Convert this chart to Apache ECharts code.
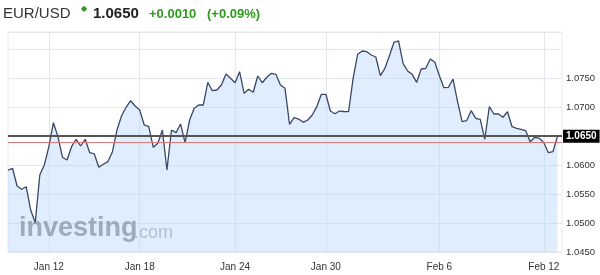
<!DOCTYPE html>
<html>
<head>
<meta charset="utf-8">
<script src="https://cdn.jsdelivr.net/npm/echarts@6/dist/echarts.min.js"></script>
<style>
html,body{margin:0;padding:0;background:#fff;}
#chart{width:600px;height:275px;}
</style>
</head>
<body>
<div id="chart"></div>
<script>
// EUR/USD price path
const prices = [
  1.05916,1.05946,1.0564,1.05583,1.05628,1.05225,1.05006,1.0583,1.06003,1.06319,
  1.06733,1.06492,1.06136,1.06089,1.06319,1.06447,1.06331,1.06447,1.06215,1.06193,
  1.05963,1.06015,1.0606,1.06232,1.06607,1.06849,1.06999,1.07113,1.07022,1.06953,
  1.06694,1.06664,1.06308,1.06378,1.06607,1.05916,1.06607,1.06561,1.06711,1.06388,
  1.0678,1.06982,1.07039,1.07039,1.07431,1.07286,1.07298,1.07385,1.07575,1.0750,
  1.07424,1.07614,1.07241,1.0731,1.07259,1.0754,1.07424,1.07518,1.07587,1.07569,
  1.07385,1.07328,1.06706,1.0682,1.06797,1.0674,1.0678,1.06866,1.0701,1.07224,
  1.07224,1.06935,1.06889,1.06935,1.06927,1.06923,1.0750,1.07915,1.07972,1.0796,
  1.07903,1.07868,1.07545,1.07673,1.07891,1.08122,1.08145,1.07759,1.07626,1.07569,
  1.07431,1.07661,1.07673,1.07834,1.07777,1.07545,1.07338,1.07345,1.07488,1.07096,
  1.06751,1.06768,1.06941,1.06809,1.06792,1.06447,1.0701,1.06884,1.06884,1.06827,
  1.06923,1.06664,1.06637,1.06619,1.06595,1.06405,1.06481,1.06464,1.06388,1.06215,
  1.06232,1.0650
];
// date tick labels and the data point each one sits on
const tickLabels = ['Jan 12','Jan 18','Jan 24','Jan 30','Feb 6','Feb 12'];
const tickIndex  = [9, 29, 50, 70, 95, 118];
// y-axis
const yMin = 1.045, yMax = 1.083, yStep = 0.005;
const lastPrice = 1.0650;
const prevClose = 1.0640;
// header texts
const headerSymbol = 'EUR/USD';
const headerPrice = '1.0650';
const headerChange = '+0.0010';
const headerPct = '(+0.09%)';

const categories = [];
for (let i = 0; i <= prices.length; i++) categories.push(String(i));
const labelAt = {};
tickIndex.forEach((ix, k) => { labelAt[ix] = tickLabels[k]; });
const showTick = (i) => labelAt[i] !== undefined;

const FONT = '"Liberation Sans", Arial, Helvetica, sans-serif';
const green = '#2f9a1f';

const chart = echarts.init(document.getElementById('chart'), null, {renderer: 'canvas'});
chart.setOption({
  animation: false,
  backgroundColor: '#ffffff',
  textStyle: {fontFamily: FONT},
  grid: {left: 8, right: 38, top: 32, bottom: 23, show: true, borderColor: '#e4e8ee', borderWidth: 1, backgroundColor: 'transparent'},
  xAxis: {
    type: 'category',
    data: categories,
    boundaryGap: false,
    axisLine: {show: false},
    axisTick: {show: false},
    axisLabel: {
      interval: (i) => showTick(i),
      formatter: (v, i) => labelAt[Number(v)] || '',
      color: '#333', fontSize: 10, margin: 10, fontFamily: FONT
    },
    splitLine: {show: true, interval: (i) => showTick(i), lineStyle: {color: '#e4e8ee', width: 1}}
  },
  yAxis: {
    type: 'value',
    position: 'right',
    min: yMin, max: yMax, interval: yStep,
    axisLine: {show: false},
    axisTick: {show: false},
    axisLabel: {
      color: '#333', fontSize: 9.5, margin: 4, fontFamily: FONT,
      formatter: (v) => {
        if (v > 1.0751) return '';
        if (Math.abs(v - lastPrice) < 1e-6) return '';
        return v.toFixed(4);
      }
    },
    splitLine: {show: true, lineStyle: {color: '#e4e8ee', width: 1}}
  },
  series: [{
    type: 'line',
    data: prices,
    symbol: 'none',
    smooth: false,
    lineStyle: {color: '#3a4768', width: 1.3},
    areaStyle: {color: 'rgba(180,212,248,0.6)', origin: 'start'},
    markLine: {
      silent: true,
      symbol: 'none',
      precision: 4,
      animation: false,
      data: [
        {yAxis: prevClose, lineStyle: {color: '#e07a7a', width: 1, type: 'solid'}, label: {show: false}},
        {yAxis: lastPrice, lineStyle: {color: '#555555', width: 2, type: 'solid'},
          label: {show: true, position: 'end', distance: 1, formatter: headerPrice,
            color: '#ffffff', backgroundColor: '#000000', fontWeight: 'bold', fontSize: 10,
            padding: [2, 3, 1, 3], fontFamily: FONT}}
      ]
    }
  }],
  graphic: [
    {type: 'text', left: 3, top: 6, style: {text: headerSymbol, font: '15px ' + FONT, fill: '#333333'}},
    {type: 'text', left: 81, top: 5, style: {text: '\u25C6', font: '8px ' + FONT, fill: green}},
    {type: 'text', left: 93, top: 6, style: {text: headerPrice, font: 'bold 15px ' + FONT, fill: '#222222'}},
    {type: 'text', left: 149, top: 8, style: {text: headerChange, font: 'bold 13px ' + FONT, fill: green}},
    {type: 'text', left: 207, top: 8, style: {text: headerPct, font: 'bold 13px ' + FONT, fill: green}},
    {type: 'text', left: 19, top: 215, z: 100, style: {text: 'investing', font: 'bold 27px ' + FONT, fill: 'rgba(120,130,142,0.62)'}},
    {type: 'text', left: 134, top: 224, z: 100, style: {text: '.com', font: '18px ' + FONT, fill: 'rgba(140,150,162,0.5)'}}
  ]
});
</script>
</body>
</html>
